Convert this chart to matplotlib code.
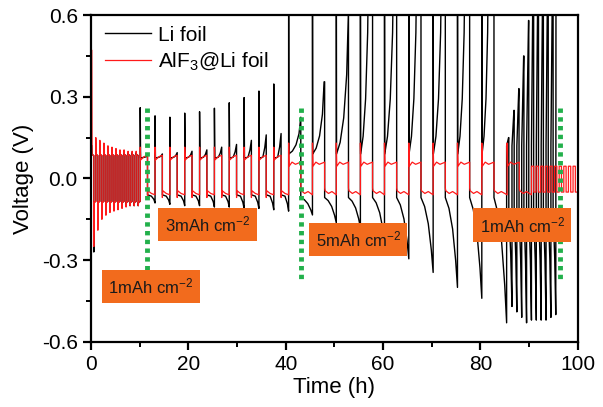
import matplotlib
matplotlib.use('Agg')
import matplotlib.pyplot as plt
from matplotlib.ticker import MultipleLocator, FormatStrFormatter

plt.rcParams['font.family'] = ['Liberation Sans', 'DejaVu Sans']
plt.rcParams['mathtext.fontset'] = 'custom'
plt.rcParams['mathtext.rm'] = 'Liberation Sans'
plt.rcParams['mathtext.it'] = 'Liberation Sans:italic'
plt.rcParams['axes.unicode_minus'] = False

# --- 1 mAh cm-2, first block (short cycles) ---
p1_starts = [0.15, 0.98, 1.81, 2.64, 3.47, 4.3, 5.12, 5.95, 6.78, 7.61, 8.44, 9.27]
p1_end = 10.1
p1_red_peaks = [0.47, 0.15, 0.14, 0.13, 0.12, 0.115, 0.11, 0.105, 0.105, 0.10, 0.10, 0.10]
p1_red_troughs = [-0.25, -0.19, -0.15, -0.135, -0.125, -0.12, -0.115, -0.11, -0.105, -0.10,
                  -0.10, -0.10]
p1_black_peaks = [0.12, 0.11, 0.105, 0.10, 0.10, 0.095, 0.095, 0.095, 0.095, 0.095, 0.095, 0.095]
p1_black_troughs = [-0.27, -0.14, -0.12, -0.115, -0.11, -0.105, -0.105, -0.10, -0.10, -0.10,
                    -0.10, -0.10]
p1_plateau = 0.088

# --- 3 mAh cm-2 block ---
p2_starts = [10.1, 13.15, 16.2, 19.25, 22.3, 25.35, 28.4, 31.45, 34.5, 37.55]
p2_half = 1.5
p2_black_spikes = [0.26, 0.23, 0.225, 0.24, 0.245, 0.258, 0.278, 0.297, 0.321, 0.347]
p2_black_ends = [0.085, 0.09, 0.095, 0.10, 0.105, 0.115, 0.125, 0.14, 0.16, 0.165]
p2_black_troughs = [-0.09, -0.095, -0.10, -0.10, -0.105, -0.105, -0.11, -0.11, -0.115, -0.12]
p2_red_spike = 0.115

# --- 5 mAh cm-2 block ---
p3_starts = [40.6, 45.5, 50.4, 55.35, 60.3, 65.3, 70.3, 75.3, 80.3]
p3_half = 2.5
p3_black_rise = [2.5, 2.4, 2.5, 1.75, 1.95, 1.7, 1.8, 1.6, 1.4]
p3_black_tops = [0.225, 0.355, 0.62, 0.9, 0.9, 0.9, 0.9, 0.9, 0.9]
p3_black_troughs = [-0.134, -0.163, -0.18, -0.23, -0.295, -0.345, -0.40, -0.44, -0.53]
p3_red_starts = [40.6, 45.5, 50.4, 55.35, 60.3, 65.3, 70.3, 75.3, 80.3, 85.5]
p3_red_spike = 0.13

# --- 1 mAh cm-2, last block ---
p4_black_starts = [85.4, 86.5, 87.5, 88.5, 89.5, 90.5, 91.5, 92.5, 93.5, 94.5]
p4_black_end = 95.5
p4_black_peaks = [0.15, 0.25, 0.33, 0.45, 0.58, 0.9, 0.9, 0.9, 0.9, 0.9]
p4_black_troughs = [-0.47, -0.49, -0.51, -0.53, -0.52, -0.52, -0.52, -0.52, -0.51, -0.50]
p4_red_starts = [90.5, 91.45, 92.4, 93.35, 94.3, 95.25, 96.2, 97.15, 98.1, 99.05]
p4_red_high, p4_red_low = 0.045, -0.05

# stage markers and labels
divider_x = [11.4, 43.1, 96.3]
divider_bottom = [-0.347, -0.376, -0.38]
divider_top = 0.258
label_texts = ['1mAh cm$^{-2}$', '3mAh cm$^{-2}$', '5mAh cm$^{-2}$', '1mAh cm$^{-2}$']
label_x = [12.3, 23.9, 54.9, 88.6]
label_y = [-0.398, -0.17, -0.224, -0.171]


def extend(ts, vs, pts):
    for t, v in pts:
        ts.append(t)
        vs.append(v)


def short_cycles(ts, vs, starts, end, peaks, troughs):
    nxt = starts[1:] + [end]
    for t0, t1, pk, tr in zip(starts, nxt, peaks, troughs):
        h = (t1 - t0) / 2
        extend(ts, vs, [(t0, pk), (t0 + 0.06, p1_plateau), (t0 + h, p1_plateau - 0.004),
                        (t0 + h, tr), (t0 + h + 0.06, -p1_plateau), (t1, -p1_plateau + 0.004)])


bt, bv = [], []
rt, rv = [], []

short_cycles(bt, bv, p1_starts, p1_end, p1_black_peaks, p1_black_troughs)
short_cycles(rt, rv, p1_starts, p1_end, p1_red_peaks, p1_red_troughs)

# 3 mAh cm-2
p2_next = p2_starts[1:] + [p3_starts[0]]
for t0, t1, sp, end, tr in zip(p2_starts, p2_next, p2_black_spikes, p2_black_ends, p2_black_troughs):
    tm = t0 + p2_half
    extend(bt, bv, [(t0, sp), (t0 + 0.08, 0.075), (t0 + 0.8, 0.078),
                    (t0 + 1.2, 0.075 + 0.45 * (end - 0.075)), (tm, end),
                    (tm, -0.06), (tm + 0.8, -0.065),
                    (t1 - 0.25, -0.06 + 0.55 * (tr + 0.06)), (t1, tr)])
    extend(rt, rv, [(t0, p2_red_spike), (t0 + 0.1, 0.068), (t0 + 0.8, 0.08), (tm, 0.085),
                    (tm, -0.07), (tm + 0.1, -0.045), (tm + 0.8, -0.055), (t1, -0.06)])

# 5 mAh cm-2
rise_tf = [0.3, 0.6, 0.85, 1.0]
rise_vf = [0.08, 0.25, 0.55, 1.0]
fall_tf = [0.3, 0.6, 0.85, 1.0]
fall_vf = [0.12, 0.35, 0.7, 1.0]
p3_next = p3_starts[1:] + [p4_black_starts[0]]
for t0, t1, rise, top, tr in zip(p3_starts, p3_next, p3_black_rise, p3_black_tops, p3_black_troughs):
    tm = t0 + p3_half
    pts = [(t0, 0.9), (t0 + 0.05, 0.09)]
    pts += [(t0 + 0.05 + f * (rise - 0.05), 0.09 + g * (top - 0.09)) for f, g in zip(rise_tf, rise_vf)]
    pts += [(tm, top), (tm, -0.07)]
    pts += [(tm + f * (t1 - tm), -0.07 + g * (tr + 0.07)) for f, g in zip(fall_tf, fall_vf)]
    extend(bt, bv, pts)

p3_red_next = p3_red_starts[1:] + [p4_red_starts[0]]
for t0, t1 in zip(p3_red_starts, p3_red_next):
    tm = t0 + p3_half
    extend(rt, rv, [(t0, p3_red_spike), (t0 + 0.1, 0.045), (t0 + 0.7, 0.06), (t0 + 1.4, 0.052),
                    (tm, 0.06), (tm, -0.035), (tm + 0.1, -0.045), (tm + 0.8, -0.055),
                    (tm + 1.5, -0.048), (t1, -0.06)])

# 1 mAh cm-2 again
p4_next = p4_black_starts[1:] + [p4_black_end]
for t0, t1, pk, tr in zip(p4_black_starts, p4_next, p4_black_peaks, p4_black_troughs):
    extend(bt, bv, [(t0, 0.12), (t0 + 0.4, pk), (t0 + 0.45, pk), (t0 + 0.45, -0.12),
                    (t0 + 0.45 + 0.6 * (t1 - t0 - 0.45), -0.12 + 0.45 * (tr + 0.12)), (t1, tr)])
extend(bt, bv, [(p4_black_end + 0.05, 0.9)])

for t0 in p4_red_starts:
    extend(rt, rv, [(t0, p4_red_high), (t0 + 0.47, p4_red_high),
                    (t0 + 0.47, p4_red_low), (t0 + 0.95, p4_red_low)])

fig, ax = plt.subplots(figsize=(6.03, 4.07), dpi=100)
fig.subplots_adjust(left=0.151, right=0.958, top=0.963, bottom=0.160)

ax.plot(bt, bv, color='black', lw=1.0, label='Li foil')
ax.plot(rt, rv, color='#ff1a1a', lw=0.9, label='AlF$_3$@Li foil')

for x, yb in zip(divider_x, divider_bottom):
    ax.plot([x, x], [divider_top, yb], color='#22b04b', lw=3.5, ls=(0, (0.9, 0.9)),
            solid_capstyle='butt', dash_capstyle='butt')

for txt, x, y in zip(label_texts, label_x, label_y):
    ax.text(x, y, txt, ha='center', va='center', fontsize=12, color='#1a1a1a',
            bbox=dict(boxstyle='square,pad=0.4', fc='#f26b1d', ec='none'))

ax.set_xlim(0, 100)
ax.set_ylim(-0.6, 0.6)
ax.xaxis.set_major_locator(MultipleLocator(20))
ax.xaxis.set_minor_locator(MultipleLocator(10))
ax.yaxis.set_major_locator(MultipleLocator(0.3))
ax.yaxis.set_minor_locator(MultipleLocator(0.15))
ax.yaxis.set_major_formatter(FormatStrFormatter('%.1f'))
ax.tick_params(which='major', direction='out', length=6, width=1.6, labelsize=15)
ax.tick_params(which='minor', direction='out', length=3.5, width=1.4)
for s in ax.spines.values():
    s.set_linewidth(1.6)

ax.set_xlabel('Time (h)', fontsize=16, labelpad=2)
ax.set_ylabel('Voltage (V)', fontsize=16, labelpad=6)

ax.legend(loc='upper left', bbox_to_anchor=(0.029, 0.968), frameon=False, fontsize=15,
          handlelength=2.2, handletextpad=0.35, labelspacing=0.3, borderpad=0, borderaxespad=0)

fig.savefig('out.png', dpi=100)
